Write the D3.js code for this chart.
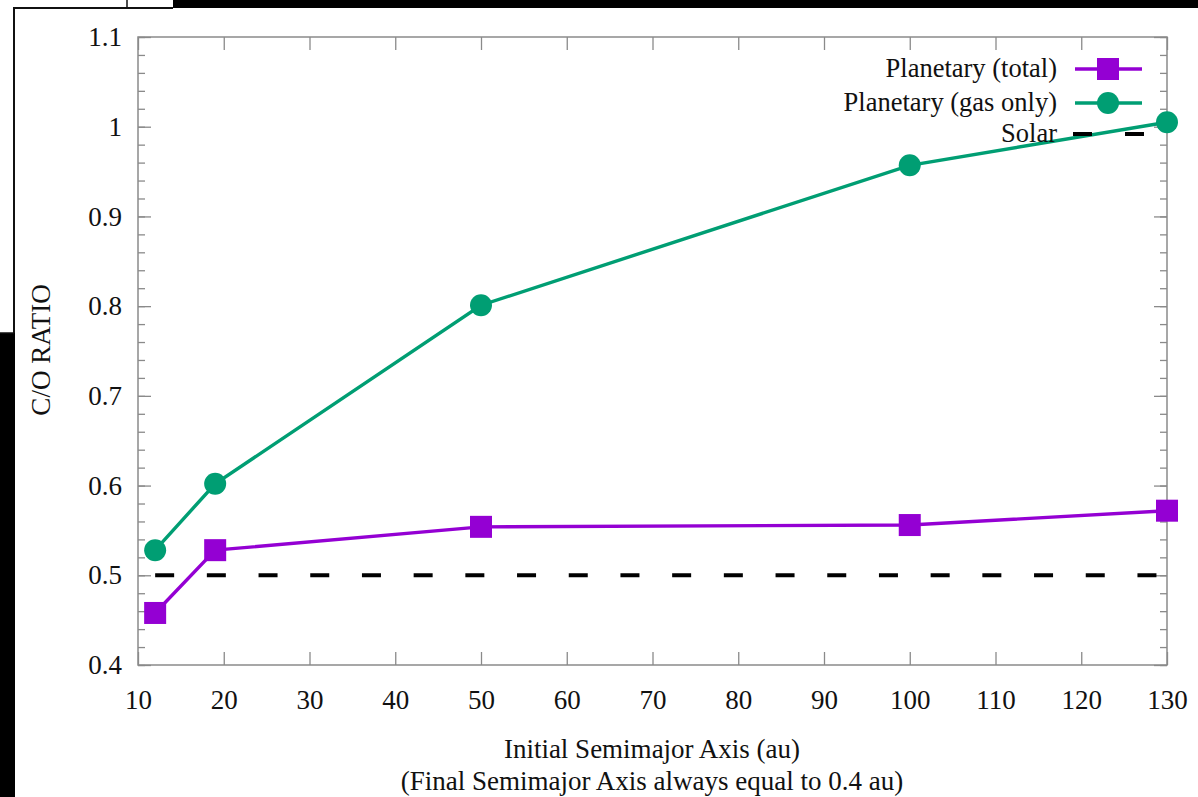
<!DOCTYPE html>
<html>
<head>
<meta charset="utf-8">
<script src="https://cdn.jsdelivr.net/npm/d3@7"></script>
<style>
  html, body { margin: 0; padding: 0; background: #fff; }
  svg { display: block; }
  text { font-family: "Liberation Serif", "Times New Roman", serif; fill: #111; }
</style>
</head>
<body>
<svg id="chart" width="1198" height="797"></svg>
<script>
// Initial semimajor axis of each run (au)
const semimajor = [12, 19, 50, 100, 130];
// C/O ratio of the planet, all material
const coTotal = [0.458, 0.528, 0.554, 0.556, 0.572];
// C/O ratio of the accreted gas only
const coGas = [0.528, 0.602, 0.801, 0.957, 1.005];
// Solar reference value
const coSolar = 0.5;
const solarRange = [12, 130];

const xTicks = [10, 20, 30, 40, 50, 60, 70, 80, 90, 100, 110, 120, 130];
const yTicks = [0.4, 0.5, 0.6, 0.7, 0.8, 0.9, 1.0, 1.1];
const yTickLabels = ["0.4", "0.5", "0.6", "0.7", "0.8", "0.9", "1", "1.1"];
const yMinorTicks = d3.range(0, 36).map(i => +(0.4 + i * 0.02).toFixed(2));

const seriesNames = ["Planetary (total)", "Planetary (gas only)", "Solar"];

const purple = "#9400d3";
const green = "#009e73";
const frame = "#8a8a8a";

const svg = d3.select("#chart");
const W = 1198, H = 797;
const plot = { left: 138, right: 1167, top: 37, bottom: 665 };

// Page background
svg.append("rect").attr("width", W).attr("height", H).attr("fill", "#fff");

// Overlapping window edges around the figure
svg.append("rect").attr("x", 173).attr("y", 0).attr("width", W - 173).attr("height", 8).attr("fill", "#000");
svg.append("rect").attr("x", 0).attr("y", 333).attr("width", 15).attr("height", H - 333).attr("fill", "#000");
svg.append("path").attr("d", "M14,333 V8 H173").attr("fill", "none").attr("stroke", "#111").attr("stroke-width", 2);
svg.append("line").attr("x1", 127).attr("x2", 127).attr("y1", 0).attr("y2", 8).attr("stroke", "#111").attr("stroke-width", 1.5);
svg.append("line").attr("x1", 0).attr("x2", 14).attr("y1", 333).attr("y2", 333).attr("stroke", "#111").attr("stroke-width", 1.5);

const x = d3.scaleLinear().domain([10, 130]).range([plot.left, plot.right]);
const y = d3.scaleLinear().domain([0.4, 1.1]).range([plot.bottom, plot.top]);

function styleAxis(g) {
  g.select(".domain").remove();
  g.selectAll(".tick line").attr("stroke", frame).attr("stroke-width", 1.3);
  g.selectAll(".tick text").attr("fill", "#111").style("font-family", '"Liberation Serif", serif').style("font-size", "27px");
}

// Minor y ticks, left and right
svg.append("g").attr("transform", `translate(${plot.left},0)`)
  .call(d3.axisLeft(y).tickValues(yMinorTicks).tickSize(-7).tickFormat(""))
  .call(styleAxis);
svg.append("g").attr("transform", `translate(${plot.right},0)`)
  .call(d3.axisRight(y).tickValues(yMinorTicks).tickSize(-7).tickFormat(""))
  .call(styleAxis);

// Major y ticks with labels
svg.append("g").attr("transform", `translate(${plot.left},0)`)
  .call(d3.axisLeft(y).tickValues(yTicks).tickSize(-13).tickPadding(16)
    .tickFormat((d, i) => yTickLabels[i]))
  .call(styleAxis);
svg.append("g").attr("transform", `translate(${plot.right},0)`)
  .call(d3.axisRight(y).tickValues(yTicks).tickSize(-13).tickFormat(""))
  .call(styleAxis);

// x ticks, bottom with labels and mirrored on top
svg.append("g").attr("transform", `translate(0,${plot.bottom})`)
  .call(d3.axisBottom(x).tickValues(xTicks).tickSize(-13).tickPadding(25).tickFormat(d3.format("d")))
  .call(styleAxis);
svg.append("g").attr("transform", `translate(0,${plot.top})`)
  .call(d3.axisTop(x).tickValues(xTicks).tickSize(-13).tickFormat(""))
  .call(styleAxis);

// Plot frame
svg.append("rect")
  .attr("x", plot.left).attr("y", plot.top)
  .attr("width", plot.right - plot.left).attr("height", plot.bottom - plot.top)
  .attr("fill", "none").attr("stroke", frame).attr("stroke-width", 1.5);

// Axis titles
svg.append("text")
  .attr("transform", `translate(50,350) rotate(-90)`)
  .attr("text-anchor", "middle").style("font-size", "27px")
  .text("C/O RATIO");
svg.append("text").attr("x", 652).attr("y", 758).attr("text-anchor", "middle")
  .style("font-size", "27px").text("Initial Semimajor Axis (au)");
svg.append("text").attr("x", 652).attr("y", 790).attr("text-anchor", "middle")
  .style("font-size", "27px").text("(Final Semimajor Axis always equal to 0.4 au)");

// Solar reference line
svg.append("line")
  .attr("x1", x(solarRange[0])).attr("x2", x(solarRange[1]))
  .attr("y1", y(coSolar)).attr("y2", y(coSolar))
  .attr("stroke", "#000").attr("stroke-width", 4).attr("stroke-dasharray", "19,32.7");

const line = d3.line().x(d => x(d[0])).y(d => y(d[1]));
const gasPts = semimajor.map((s, i) => [s, coGas[i]]);
const totPts = semimajor.map((s, i) => [s, coTotal[i]]);

// Gas-only series
svg.append("path").datum(gasPts).attr("d", line)
  .attr("fill", "none").attr("stroke", green).attr("stroke-width", 3.4);
svg.selectAll(".gasPt").data(gasPts).enter().append("circle")
  .attr("cx", d => x(d[0])).attr("cy", d => y(d[1])).attr("r", 11).attr("fill", green);

// Total series
svg.append("path").datum(totPts).attr("d", line)
  .attr("fill", "none").attr("stroke", purple).attr("stroke-width", 3.4);
svg.selectAll(".totPt").data(totPts).enter().append("rect")
  .attr("x", d => x(d[0]) - 11).attr("y", d => y(d[1]) - 11)
  .attr("width", 22).attr("height", 22).attr("fill", purple);

// Legend
const legRows = [69, 103, 134];
const leg = svg.append("g");
seriesNames.forEach((name, i) => {
  leg.append("text").attr("x", 1057).attr("y", legRows[i] + 8)
    .attr("text-anchor", "end").style("font-size", "26.5px").text(name);
});
leg.append("line").attr("x1", 1075).attr("x2", 1142).attr("y1", legRows[0]).attr("y2", legRows[0])
  .attr("stroke", purple).attr("stroke-width", 3.4);
leg.append("rect").attr("x", 1108 - 11).attr("y", legRows[0] - 11).attr("width", 22).attr("height", 22).attr("fill", purple);
leg.append("line").attr("x1", 1075).attr("x2", 1142).attr("y1", legRows[1]).attr("y2", legRows[1])
  .attr("stroke", green).attr("stroke-width", 3.4);
leg.append("circle").attr("cx", 1108).attr("cy", legRows[1]).attr("r", 11).attr("fill", green);
leg.append("line").attr("x1", 1073).attr("x2", 1144).attr("y1", legRows[2]).attr("y2", legRows[2])
  .attr("stroke", "#000").attr("stroke-width", 4).attr("stroke-dasharray", "19,33");
</script>
</body>
</html>
